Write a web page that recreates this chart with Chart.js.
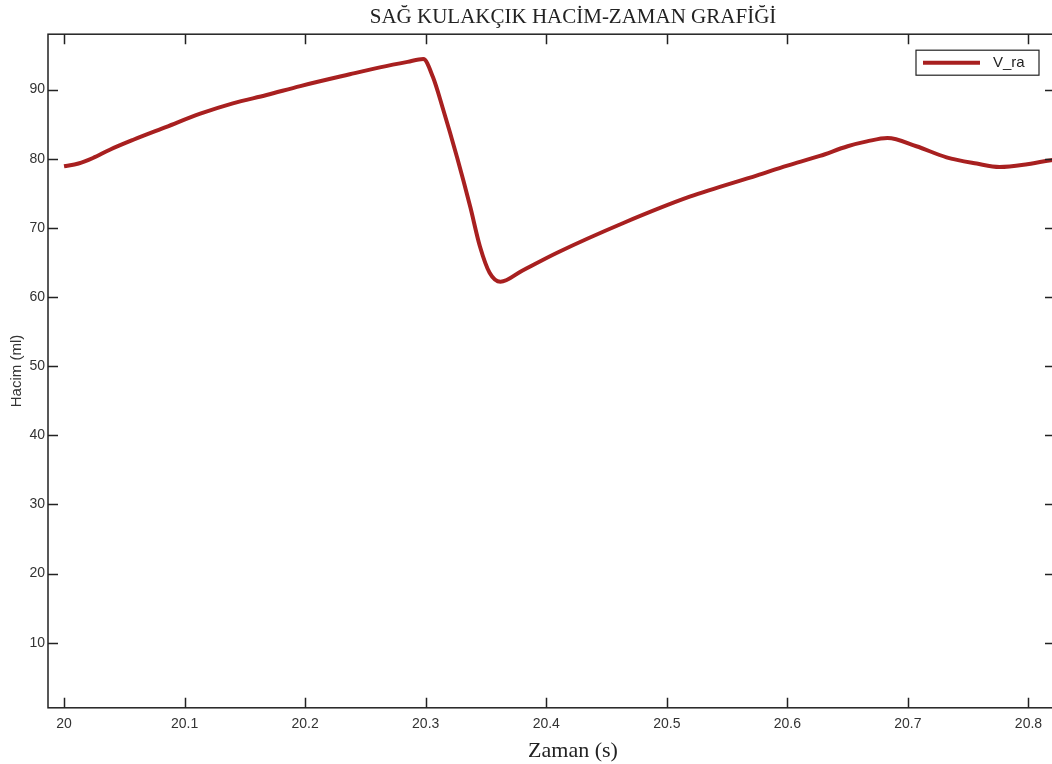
<!DOCTYPE html>
<html>
<head>
<meta charset="utf-8">
<script src="https://cdn.jsdelivr.net/npm/chart.js@4"></script>
<style>
  html, body { margin: 0; padding: 0; background: #fff; overflow: hidden; }
  #wrap { width: 1146px; height: 764px; }
</style>
</head>
<body>
<div id="wrap"><canvas id="chart" width="1146" height="764"></canvas></div>
<script>
// time (s) and right atrium volume (ml)
const times = [20.0, 20.012, 20.024, 20.038, 20.057, 20.085, 20.113, 20.140, 20.168, 20.196,
  20.237, 20.262, 20.285, 20.298, 20.306, 20.314, 20.326, 20.337, 20.345, 20.353,
  20.362, 20.380, 20.409, 20.464, 20.519, 20.575, 20.600, 20.627, 20.650, 20.666,
  20.683, 20.707, 20.732, 20.757, 20.776, 20.799, 20.822];
const volumes = [78.9, 79.3, 80.1, 81.3, 82.7, 84.6, 86.5, 88.0, 89.2, 90.5,
  92.2, 93.2, 94.0, 94.4, 91.8, 87.4, 80.2, 73.0, 67.3, 63.5,
  62.2, 63.8, 66.4, 70.7, 74.5, 77.6, 79.0, 80.4, 81.8, 82.5,
  83.0, 81.8, 80.2, 79.3, 78.8, 79.2, 79.9];
const xTicks = [20, 20.1, 20.2, 20.3, 20.4, 20.5, 20.6, 20.7, 20.8];
const yTicks = [10, 20, 30, 40, 50, 60, 70, 80, 90];

const lineColor = '#a82020';
const axisColor = '#222';

// matlab style box: frame plus inward ticks on all four sides, and legend inside
const boxPlugin = {
  id: 'box',
  afterDraw(chart) {
    const ctx = chart.ctx;
    const { left, right, top, bottom } = chart.chartArea;
    const xs = chart.scales.x, ys = chart.scales.y;
    ctx.save();
    ctx.strokeStyle = axisColor;
    ctx.lineWidth = 1.5;
    ctx.strokeRect(left, top, right - left, bottom - top);
    ctx.beginPath();
    xTicks.forEach(v => {
      const px = Math.round(xs.getPixelForValue(v)) + 0.5;
      ctx.moveTo(px, bottom); ctx.lineTo(px, bottom - 10);
      ctx.moveTo(px, top); ctx.lineTo(px, top + 10);
    });
    yTicks.forEach(v => {
      const py = Math.round(ys.getPixelForValue(v)) + 0.5;
      ctx.moveTo(left, py); ctx.lineTo(left + 10, py);
      ctx.moveTo(right, py); ctx.lineTo(right - 10, py);
    });
    ctx.stroke();

    // legend
    const ds = chart.data.datasets[0];
    const bw = 123, bh = 25;
    const bx = right - 16 - bw, by = top + 16;
    ctx.fillStyle = '#fff';
    ctx.fillRect(bx, by, bw, bh);
    ctx.lineWidth = 1.2;
    ctx.strokeRect(bx, by, bw, bh);
    ctx.strokeStyle = ds.borderColor;
    ctx.lineWidth = 4;
    ctx.beginPath();
    ctx.moveTo(bx + 7, by + bh / 2);
    ctx.lineTo(bx + 64, by + bh / 2);
    ctx.stroke();
    ctx.fillStyle = '#222';
    ctx.font = '15px "Liberation Sans", Arial, sans-serif';
    ctx.textBaseline = 'middle';
    ctx.fillText(ds.label, bx + 77, by + bh / 2);
    ctx.restore();
  }
};

new Chart(document.getElementById('chart'), {
  type: 'scatter',
  data: {
    datasets: [{
      label: 'V_ra',
      data: times.map((t, i) => ({ x: t, y: volumes[i] })),
      showLine: true,
      borderColor: lineColor,
      borderWidth: 4,
      pointRadius: 0,
      cubicInterpolationMode: 'monotone',
      fill: false
    }]
  },
  options: {
    responsive: false,
    animation: false,
    layout: { padding: 0 },
    scales: {
      x: {
        type: 'linear',
        min: 19.9867,
        max: 20.822,
        afterBuildTicks: s => { s.ticks = xTicks.map(v => ({ value: v })); },
        afterFit: s => { s.height = 29.8; },
        grid: { display: false, drawTicks: false },
        border: { display: false },
        ticks: {
          padding: 8,
          color: '#333',
          font: { family: '"Liberation Sans", Arial, sans-serif', size: 14 },
          callback: v => String(v)
        }
      },
      y: {
        min: 0.6,
        max: 98,
        afterBuildTicks: s => { s.ticks = yTicks.map(v => ({ value: v })); },
        afterFit: s => { s.width = 48; },
        grid: { display: false, drawTicks: false },
        border: { display: false },
        ticks: {
          padding: 3,
          color: '#333',
          font: { family: '"Liberation Sans", Arial, sans-serif', size: 14 }
        },
        title: {
          display: true,
          text: 'Hacim (ml)',
          color: '#333',
          padding: { top: 8, bottom: 0 },
          font: { family: '"Liberation Sans", Arial, sans-serif', size: 15 }
        }
      },
      y2: {
        position: 'right',
        afterFit: s => { s.width = 91; },
        grid: { display: false },
        border: { display: false },
        ticks: { display: false }
      }
    },
    plugins: {
      legend: { display: false },
      tooltip: { enabled: false },
      title: {
        display: true,
        text: 'SAĞ KULAKÇIK HACİM-ZAMAN GRAFİĞİ',
        color: '#222',
        padding: { top: 5, bottom: 4 },
        font: { family: '"Liberation Serif", "Times New Roman", serif', size: 21, weight: 'normal', lineHeight: 1.2 }
      },
      subtitle: {
        display: true,
        position: 'bottom',
        text: 'Zaman (s)',
        color: '#222',
        padding: { top: 0, bottom: 0 },
        font: { family: '"Liberation Serif", "Times New Roman", serif', size: 22, weight: 'normal', lineHeight: 1.2 }
      }
    }
  },
  plugins: [boxPlugin]
});
</script>
</body>
</html>
